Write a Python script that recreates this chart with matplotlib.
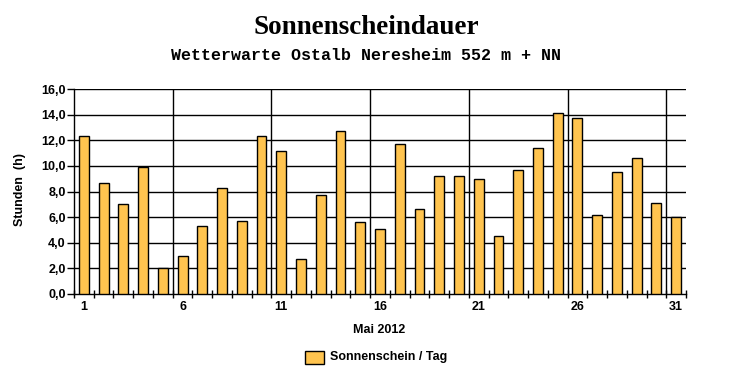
import matplotlib
matplotlib.use("Agg")
import matplotlib.pyplot as plt
from matplotlib.patches import Rectangle
import numpy as np

# Sonnenscheindauer Mai 2012, Stunden pro Tag
days = list(range(1, 32))
hours = [12.3, 8.7, 7.0, 9.9, 2.0, 3.0, 5.3, 8.3, 5.7, 12.3,
         11.2, 2.7, 7.7, 12.7, 5.6, 5.1, 11.7, 6.6, 9.2, 9.2,
         9.0, 4.5, 9.7, 11.4, 14.1, 13.7, 6.2, 9.5, 10.6, 7.1,
         6.0]
xlabels = [1, 6, 11, 16, 21, 26, 31]
yticks = [0, 2, 4, 6, 8, 10, 12, 14, 16]

title = "Sonnenscheindauer"
subtitle = "Wetterwarte Ostalb Neresheim 552 m + NN"
legend_label = "Sonnenschein / Tag"

barcol = '#FFC44F'
sans = ['Liberation Sans', 'DejaVu Sans']

fig = plt.figure(figsize=(7.32, 3.8), dpi=100)
ax = fig.add_axes([74/732, 1-294/380, (686-74)/732, (294-89)/380])

ax.bar(days, hours, width=0.5, color=barcol, edgecolor='black', linewidth=1, zorder=3)

ax.set_xlim(0.5, 31.5)
ax.set_ylim(0, 16)
ax.set_yticks(yticks)
ax.set_yticklabels([f"{v:.1f}".replace('.', ',') for v in yticks],
                   fontfamily=sans, fontweight='bold', fontsize=9)
ax.set_xticks(xlabels)
ax.set_xticklabels([str(d) for d in xlabels], fontfamily=sans, fontweight='bold', fontsize=9)
ax.set_xticks(np.arange(0.5, 32, 1), minor=True)
ax.tick_params(axis='x', which='major', length=0, pad=5)
ax.tick_params(axis='x', which='minor', direction='inout', length=6, width=1)
ax.tick_params(axis='y', which='major', direction='out', length=5, width=1, pad=1)

for v in yticks[1:]:
    ax.axhline(v, color='black', linewidth=1, zorder=1)
for v in [5.5, 10.5, 15.5, 20.5, 25.5, 30.5]:
    ax.axvline(v, color='black', linewidth=1, zorder=1)

for s in ['top', 'right']:
    ax.spines[s].set_visible(False)
for s in ['left', 'bottom']:
    ax.spines[s].set_linewidth(1)

fig.text(366/732, 1-28/380, title, ha='center', va='center',
         fontfamily=['Liberation Serif', 'DejaVu Serif'], fontweight='bold', fontsize=19.5)
fig.text(366/732, 1-55/380, subtitle, ha='center', va='center',
         fontfamily=['Liberation Mono', 'DejaVu Sans Mono'], fontweight='bold', fontsize=12)
fig.text(379/732, 1-330/380, "Mai 2012", ha='center', va='center',
         fontfamily=sans, fontweight='bold', fontsize=9)
fig.text(20/732, 1-190/380, "Stunden  (h)", ha='center', va='center', rotation=90,
         fontfamily=sans, fontweight='bold', fontsize=9)

# legend
fig.patches.append(Rectangle((305/732, 1-364/380), 19/732, 13/380, transform=fig.transFigure,
                             facecolor=barcol, edgecolor='black', linewidth=1))
fig.text(330/732, 1-357/380, legend_label, ha='left', va='center',
         fontfamily=sans, fontweight='bold', fontsize=9)

fig.savefig("out.png", dpi=100)
